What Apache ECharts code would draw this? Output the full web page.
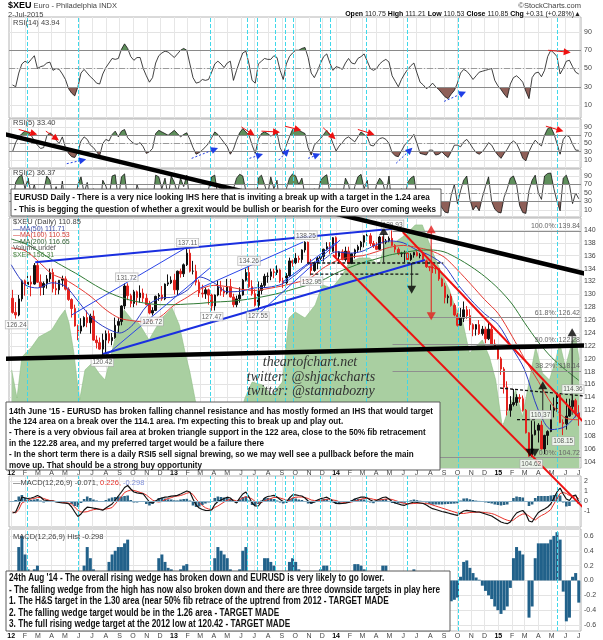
<!DOCTYPE html>
<html><head><meta charset="utf-8">
<script src="https://cdn.jsdelivr.net/npm/echarts@6.0.0/dist/echarts.min.js"></script>
<style>html,body{margin:0;padding:0;background:#fff;}#chart{width:603px;height:640px;}</style>
</head><body><div id="chart"></div>
<script>
const T = s => Date.parse(s);
const DAY = 86400000;
const X_MIN = '2011-12-27', X_MAX = '2015-07-06';
const FIRST_WEEK = '2012-01-04';

// weekly [open, high, low, close] of $XEU
const price2012 = [
[129.4,130.7,127.0,127.2],[127.2,128.8,126.24,126.8],[126.8,129.9,126.6,129.3],[129.3,132.3,128.9,132.1],[132.1,132.3,129.8,131.5],
[131.5,133.2,130.9,131.9],[131.9,132.9,129.7,131.6],[131.6,134.86,131.5,134.5],[134.5,134.9,131.8,131.9],[131.9,133.1,129.8,131.1],
[131.1,132.0,129.9,131.7],[131.7,133.0,130.9,132.4],[132.4,134.0,131.9,133.4],[133.4,134.0,130.3,130.9],[130.9,132.1,129.9,130.7],
[130.7,132.2,130.0,132.2],[132.2,132.9,131.2,132.4],[132.4,132.8,130.6,130.8],[130.8,131.1,129.0,129.2],[129.2,129.4,126.4,127.8],
[127.8,128.4,125.0,125.1],[125.1,125.3,122.88,124.3],[124.3,126.3,123.9,125.1],[125.1,126.6,124.9,126.4],[126.4,127.5,124.9,125.6],
[125.6,127.0,123.9,126.6],[126.6,127.5,122.8,122.9],[122.9,123.6,121.6,122.5],[122.5,123.3,121.4,121.5],[121.5,123.9,120.42,122.9],
[122.9,124.4,120.9,123.9],[123.9,124.4,122.4,122.8],[122.8,124.0,122.1,123.3],[123.3,126.4,123.1,125.2],[125.2,126.3,124.1,125.8],
[125.8,128.3,125.2,128.2],[128.2,131.7,127.7,131.3],[131.3,131.72,129.1,129.8],[129.8,130.1,128.0,128.6],[128.6,130.7,128.0,130.4],
[130.4,130.6,128.3,129.5],[129.5,131.4,128.7,130.2],[130.2,130.9,128.8,129.4],[129.4,130.1,128.3,128.4],[128.4,129.0,126.9,127.1],
[127.1,128.0,126.72,127.5],[127.5,129.8,127.4,129.7],[129.7,130.2,129.0,129.9],[129.9,131.3,129.0,129.3],[129.3,131.7,129.1,131.6],
[131.6,133.1,131.3,131.8],[131.8,132.8,131.6,132.2]];
const price2013 = [
[132.2,133.2,130.0,130.7],[130.7,133.7,129.9,133.6],[133.6,134.0,132.6,133.2],[133.2,134.8,132.7,134.6],[134.6,137.11,134.4,136.4],
[136.4,137.0,133.4,133.6],[133.6,135.2,133.1,133.6],[133.6,134.6,131.4,131.9],[131.9,132.3,129.6,130.2],[130.2,131.5,129.5,130.1],
[130.1,131.1,129.3,130.7],[130.7,130.9,128.4,129.9],[129.9,130.1,127.47,128.2],[128.2,130.0,127.5,129.9],[129.9,132.1,129.7,131.1],
[131.1,132.1,129.8,130.5],[130.5,131.1,129.6,130.2],[130.2,132.4,130.0,131.2],[131.2,132.4,129.5,129.6],[129.6,130.1,128.0,128.4],
[128.4,129.8,128.0,129.3],[129.3,131.1,128.7,129.9],[129.9,132.4,129.8,132.2],[132.2,134.0,132.0,133.4],[133.4,134.26,131.0,131.2],
[131.2,132.2,129.8,130.1],[130.1,130.8,128.1,128.3],[128.3,132.0,127.55,130.6],[130.6,131.8,130.0,131.4],[131.4,133.2,131.0,132.8],
[132.8,133.4,131.8,132.8],[132.8,134.0,132.2,133.5],[133.5,134.0,132.5,133.4],[133.4,134.5,133.0,133.8],[133.8,134.0,131.8,132.1],
[132.1,132.6,131.0,131.8],[131.8,133.3,131.6,132.9],[132.9,135.7,132.7,135.2],[135.2,135.4,134.3,134.9],[134.9,136.4,134.7,135.6],
[135.6,136.0,134.9,135.4],[135.4,137.0,134.9,136.9],[136.9,138.25,136.5,138.1],[138.1,138.2,134.7,134.9],[134.9,135.5,132.95,133.7],
[133.7,135.1,133.5,134.9],[134.9,135.8,133.9,135.6],[135.6,136.2,135.1,135.9],[135.9,137.1,135.1,137.0],[137.0,138.1,136.8,137.4],
[137.4,138.1,136.3,136.7],[136.7,138.9,136.6,138.8]];
const price2014 = [
[138.8,139.0,135.7,135.9],[135.9,136.7,134.8,136.6],[136.6,137.0,135.3,135.4],[135.4,137.4,135.1,136.7],[136.7,137.4,134.7,134.8],
[134.8,136.4,134.7,136.3],[136.3,137.1,135.6,136.9],[136.9,137.7,136.5,137.4],[137.4,138.3,136.8,138.1],[138.1,139.2,137.3,139.1],
[139.1,139.7,138.4,139.1],[139.1,139.5,137.5,137.9],[137.9,138.3,137.2,137.5],[137.5,138.1,136.9,137.0],[137.0,139.1,136.9,138.9],
[138.9,139.0,137.9,138.1],[138.1,138.6,137.8,138.3],[138.3,139.0,138.1,138.7],[138.7,139.93,137.5,137.6],[137.6,137.8,136.5,137.0],
[137.0,137.3,136.1,136.3],[136.3,136.6,135.8,136.4],[136.4,136.8,135.0,136.4],[136.4,136.5,135.2,135.4],[135.4,136.4,135.2,136.1],
[136.1,136.6,135.7,136.5],[136.5,137.0,135.9,136.0],[136.0,136.4,135.6,136.1],[136.1,136.3,135.0,135.2],[135.2,135.4,134.1,134.3],
[134.3,134.4,133.6,134.2],[134.2,134.5,133.3,134.1],[134.1,134.4,133.2,134.0],[134.0,134.1,132.1,132.4],[132.4,132.6,131.2,131.3],
[131.3,131.8,128.6,129.5],[129.5,130.0,128.6,129.7],[129.7,130.1,128.1,128.3],[128.3,128.6,126.6,126.8],[126.8,127.1,125.0,125.2],
[125.2,127.9,125.1,126.3],[126.3,128.9,125.7,127.6],[127.6,128.2,126.2,126.7],[126.7,127.7,124.4,125.3],[125.3,125.5,123.5,124.6],
[124.6,125.4,123.6,125.3],[125.3,126.0,123.7,123.9],[123.9,125.1,123.6,124.6],[124.6,125.0,122.4,123.1],[123.1,125.7,122.9,124.6],
[124.6,125.1,122.2,122.3],[122.3,123.0,121.6,121.8]];
const price2015 = [
[121.8,122.0,119.9,120.0],[120.0,120.3,117.5,118.4],[118.4,118.7,114.6,115.6],[115.6,116.5,111.2,112.0],[112.0,114.2,111.0,112.9],
[112.9,115.3,112.6,113.2],[113.2,114.5,112.7,114.0],[114.0,114.5,113.2,113.8],[113.8,114.3,111.8,112.0],[112.0,112.2,108.4,108.5],
[108.5,108.6,104.8,104.9],[104.9,110.4,104.62,108.2],[108.2,110.3,108.1,108.9],[108.9,110.0,107.0,109.7],[109.7,110.37,105.9,106.0],
[106.0,108.2,105.2,108.1],[108.1,108.9,106.6,108.7],[108.7,112.9,108.6,112.0],[112.0,114.0,110.9,112.3],[112.3,114.5,111.8,114.4],
[114.4,114.6,110.0,110.1],[110.1,110.6,108.15,109.9],[109.9,113.8,109.0,111.1],[111.1,113.8,111.0,112.6],[112.6,114.36,112.0,113.5],
[113.5,113.8,110.9,111.6],[111.6,112.8,109.6,110.85]];

// weekly indicator readings
const rsi14 = [32,30,45,55,58,56,60,64,50,52, 53,56,57,48,50,49,44,38,28,23, 20,30,45,49,45,41,38,34,33,44,
51,56,61,60,61,71,77,72,63,59, 62,62,50,42,35,40,56,64,67,69, 68,65,62,66,70,72,70,55,40,34,
35,38,37,38,46,55,58,55,51,56, 58,37,48,58,67,69,55,37,34,55, 58,61,60,60,64,62,48,38,55,63,
67,70,70,72,73,62,45,40,47,56, 63,66,56,48,52,51,49,56,61,56, 55,61,63,66,58,50,48,50,55,58,
60,57,42,36,30,38,44,49,53,56, 45,35,32,28,30,34,30,27,23,19, 17,22,26,34,45,49,47,43,38,42,
46,47,48,49,50,37,31,27,22,18, 33,40,42,39,35,25,17,40,45,46, 41,48,63,70,67,63,44,50,58,59, 52,46,43.94];
const rsi5 = [30,52,66,74,80,78,70,56,46,38, 40,68,76,70,58,50,66,40,26,18, 16,30,56,66,60,46,40,30,20,50,
60,56,72,80,66,80,84,64,56,50, 48,52,42,26,30,38,74,82,78,74, 70,76,82,74,66,72,76,60,40,24,
28,34,42,50,64,78,72,62,52,42, 24,36,58,76,86,78,70,46,26,60, 74,78,74,68,72,76,40,24,46,66,
84,84,82,78,74,40,22,46,54,62, 72,82,70,50,32,44,52,62,66,60, 54,66,78,72,66,46,44,54,62,64,
60,50,28,20,18,32,46,54,62,72, 50,26,24,22,34,34,22,24,30,22, 16,30,46,46,42,54,60,50,38,28,
24,30,40,52,46,32,22,14,26,36, 50,56,50,34,14,8,30,46,58,50, 44,70,86,90,74,50,24,60,70,66, 48,34,33.4];
const rsi2 = [20,75,88,92,60,85,45,70,30,12, 55,90,80,40,65,25,78,15,8,5, 18,70,88,50,75,22,60,12,5,80,
66,40,90,93,35,88,95,30,55,20, 70,45,10,6,35,25,92,88,60,85, 40,90,75,50,85,65,92,30,8,5,
25,45,15,60,88,92,40,70,35,15, 5,60,85,94,90,55,20,8,4,85, 92,70,45,88,60,80,10,5,60,85,
95,90,70,85,45,10,3,60,40,80, 88,93,50,18,6,55,40,85,70,30, 65,88,94,60,80,15,35,70,85,75,
45,90,12,5,8,60,30,75,85,90, 40,10,20,8,55,45,6,30,15,5, 3,45,70,25,55,80,90,35,10,20,
8,40,65,88,30,12,5,3,40,60, 85,90,70,20,4,2,55,80,92,50, 35,90,96,97,60,30,8,85,92,70, 25,50,36.37];
const macd = [-1.2,-1.1,-0.4,0.4,0.3,0.25,0.3,0.4,0.55,0.4, 0.1,0.05,0,0,-0.1,-0.15,-0.2,-0.22,-0.26,-0.6,
-1.1,-1.55,-1.3,-0.9,-0.62,-0.65,-0.72,-0.77,-0.85,-0.92, -0.7,-0.5,-0.3,0.1,0.5,0.9,1.35,1.55,1.2,0.9,
0.82,0.76,0.72,0.3,-0.1,-0.2,0,0.2,0.3,0.38, 0.42,0.48,0.52,0.56,0.7,0.85,1.0,0.9,0.2,-0.4,
-0.7,-0.85,-0.93,-0.95,-0.9,-0.35,-0.05,0.1,0.25,0.38, 0.3,0,-0.2,0.3,0.7,0.9,0.4,-0.2,-0.5,-0.5,
-0.1,0.3,0.45,0.5,0.56,0.4,0.15,-0.05,-0.1,0.3, 0.62,0.62,0.55,0.5,0.3,0,-0.2,-0.1,0.1,0.23,
0.3,0.38,0.2,-0.05,-0.25,-0.27,-0.25,-0.22,-0.15,0, 0.2,0.3,0.38,0.4,0.3,0.1,-0.05,0.05,0.2,0.35,
0.4,0.2,-0.05,-0.2,-0.3,-0.38,-0.43,-0.3,-0.2,-0.1, -0.15,-0.2,-0.25,-0.4,-0.6,-0.77,-0.85,-0.95,-1.05,-1.12,
-1.2,-1.28,-1.36,-1.43,-1.2,-1.0,-0.93,-0.98,-1.03,-1.08, -1.1,-1.2,-1.3,-1.4,-1.5,-1.7,-1.9,-2.1,-2.2,-2.27,
-2.1,-1.6,-1.2,-1.05,-0.95,-1.3,-2.0,-2.1,-1.6,-1.15, -0.95,-0.8,-0.6,-0.3,0.3,0.9,1.3,0.7,0.2,0.05, 0.5,0.6,-0.071];
const signal = [-1.1,-1.2,-0.85,-0.2,-0.05,0.1,0.2,0.25,0.35,0.35, 0.25,0.15,0.05,0.02,-0.05,-0.1,-0.15,-0.17,-0.21,-0.3,
-0.6,-0.95,-1.1,-1.1,-1.07,-0.95,-0.87,-0.82,-0.8,-0.87, -0.8,-0.75,-0.65,-0.3,0.05,0.45,0.85,1.0,1.1,1.05,
0.97,0.86,0.77,0.6,0.35,0.1,-0.05,-0.1,-0.05,0.13, 0.25,0.33,0.45,0.5,0.55,0.65,0.78,0.85,0.65,0.2,
-0.15,-0.45,-0.68,-0.8,-0.85,-0.65,-0.5,-0.3,-0.1,0.08, 0.15,0.1,0,0.15,0.3,0.45,0.35,0.2,-0.05,-0.2,
-0.15,0,0.15,0.25,0.36,0.35,0.3,0.2,0.1,0.05, 0.32,0.37,0.4,0.4,0.35,0.25,0.1,0.05,0.05,0.08,
0.1,0.18,0.18,0.1,0.05,-0.07,-0.13,-0.15,-0.15,-0.1, -0.02,0.08,0.18,0.25,0.28,0.25,0.17,0.12,0.12,0.15,
0.2,0.2,0.15,0.05,-0.05,-0.16,-0.25,-0.28,-0.27,-0.25, -0.23,-0.22,-0.22,-0.25,-0.3,-0.4,-0.5,-0.6,-0.7,-0.8,
-0.9,-1.0,-1.1,-1.2,-1.25,-1.25,-1.2,-1.15,-1.13,-1.12, -1.11,-1.13,-1.16,-1.2,-1.25,-1.35,-1.5,-1.65,-1.8,-1.92,
-2.0,-1.9,-1.65,-1.45,-1.3,-1.3,-1.5,-1.75,-1.9,-1.65, -1.45,-1.3,-1.1,-0.85,-0.3,0.25,0.75,0.85,0.75,0.55, 0.45,0.5,0.226];
const hist = [-0.1,0.1,0.45,0.6,0.35,0.15,0.1,0.15,0.2,0.05, -0.15,-0.1,-0.05,-0.02,-0.05,-0.05,-0.05,-0.05,-0.05,-0.3,
-0.5,-0.6,-0.2,0.2,0.45,0.3,0.15,0.05,-0.05,-0.05, 0.1,0.25,0.35,0.4,0.45,0.45,0.5,0.55,0.1,-0.15,
-0.15,-0.1,-0.05,-0.3,-0.45,-0.3,0.05,0.3,0.35,0.25, 0.17,0.15,0.07,0.06,0.15,0.2,0.22,0.05,-0.45,-0.6,
-0.55,-0.4,-0.25,-0.15,-0.05,0.3,0.45,0.4,0.35,0.3, 0.15,-0.1,-0.2,0.15,0.4,0.45,0.05,-0.4,-0.45,-0.3,
0.05,0.3,0.3,0.25,0.2,0.05,-0.15,-0.25,-0.2,0.25, 0.3,0.25,0.15,0.1,-0.05,-0.25,-0.3,-0.15,0.05,0.15,
0.2,0.2,0.02,-0.15,-0.3,-0.2,-0.12,-0.07,0,0.1, 0.22,0.22,0.2,0.15,0.02,-0.15,-0.22,-0.07,0.08,0.2,
0.2,0,-0.2,-0.25,-0.25,-0.22,-0.18,-0.02,0.07,0.15, 0.08,0.02,-0.03,-0.15,-0.3,-0.37,-0.35,-0.35,-0.35,-0.32,
-0.3,-0.28,-0.26,-0.23,0.05,0.25,0.27,0.17,0.1,0.04, 0.01,-0.07,-0.14,-0.2,-0.25,-0.35,-0.4,-0.45,-0.4,-0.35,
-0.1,0.3,0.45,0.4,0.35,0,-0.5,-0.35,0.3,0.5, 0.5,0.5,0.5,0.55,0.6,0.65,0.55,-0.15,-0.55,-0.5, 0.05,0.1,-0.298];

// monthly moving-average readings (1st of each month, Jan 2012 - Jul 2015)
const ma50 = [134.6,131.5,131.0,131.8,131.3,128.8,126.3,124.8,124.0,125.3,128.2,129.4, 129.6,130.7,132.7,131.8,130.4,130.5,131.0,131.1,131.6,133.0,134.7,135.3,
136.6,136.4,136.7,137.7,138.3,138.0,136.9,136.0,134.5,131.6,129.1,127.0, 125.3,121.7,118.3,112.0,109.0,109.5,111.71];
const ma100 = [137.2,136.8,135.2,133.2,132.3,131.0,129.5,127.6,126.3,125.9,125.7,126.5, 128.3,129.6,130.8,131.4,131.2,130.8,130.6,130.9,131.3,131.8,132.4,134.0,
135.2,135.8,136.0,136.6,137.3,137.6,137.3,136.8,135.8,133.8,131.5,129.2, 127.0,123.5,120.0,116.5,113.0,110.8,110.53];
const ma200 = [138.6,137.9,136.8,135.4,134.2,133.0,131.7,130.5,129.6,129.0,128.6,128.4, 128.4,128.5,128.6,128.8,128.9,129.1,129.4,129.8,130.3,130.9,131.5,132.2,
133.3,134.2,134.9,135.5,136.1,136.5,136.8,136.9,136.6,135.6,134.3,132.8, 130.9,128.5,125.6,122.6,120.2,118.3,116.65];

// $XEP overlay (area)
const xepDates = ['2012-01-02','2012-01-14','2012-01-25','2012-02-16','2012-03-03','2012-04-01','2012-04-19','2012-05-01','2012-05-10','2012-05-21',
'2012-05-28','2012-06-03','2012-06-15','2012-07-01','2012-07-16','2012-07-30','2012-08-21','2012-09-11','2012-09-29','2012-10-14',
'2012-11-06','2012-11-19','2012-12-05','2012-12-28','2013-01-13','2013-01-26','2013-02-06','2013-02-18','2013-03-05','2013-04-08',
'2013-05-12','2013-06-10','2013-06-26','2013-07-19','2013-08-10','2013-09-02','2013-09-17','2013-10-01','2013-10-23','2013-11-15',
'2013-12-01','2013-12-23','2014-01-15','2014-01-31','2014-02-22','2014-03-17','2014-04-08','2014-04-22','2014-05-14','2014-06-06',
'2014-06-28','2014-07-14','2014-08-06','2014-08-28','2014-09-13','2014-09-24','2014-10-12','2014-10-28','2014-11-11','2014-11-26',
'2014-12-12','2014-12-26','2015-01-10','2015-01-26','2015-02-09','2015-02-24','2015-03-12','2015-03-26','2015-04-10','2015-04-26',
'2015-05-10','2015-05-19','2015-06-01','2015-06-17','2015-06-24','2015-07-02'];
const xepValues = [151.0,136.4,157.7,162.9,168.1,171.8,178.5,182.2,175.4,159.8, 145.8,135.4,151.0,154.6,149.4,145.8,166.6,182.2,177.0,175.4,
166.6,171.8,178.0,183.2,174.4,160.3,149.9,135.4,119.8,109.4, 114.6,136.4,144.7,143.2,138.0,144.7,178.0,181.1,178.0,184.8,
195.2,193.6,200.4,207.1,209.2,209.2,205.6,217.5,217.5,221.2, 226.4,226.4,212.3,200.4,192.6,184.8,177.0,159.8,162.9,166.6,
157.7,145.8,121.3,131.7,140.6,126.5,145.8,162.9,149.4,145.8, 156.2,165.0,152.5,166.6,168.1,156.3];

// axis ticks
const priceTicks = [104,106,108,110,112,114,116,118,120,122,124,126,128,130,132,134,136,138,140];
const rsiTicks = [10,30,50,70,90];
const macdTicks = [-1,0,1,2];
const histTicks = [-0.6,-0.4,-0.2,0,0.2,0.4,0.6];

// annotations (date, value pairs)
const cyanDates = ['2012-02-05','2012-05-30','2013-03-23','2013-06-15','2013-07-08','2013-08-17','2013-09-08','2013-09-26','2013-11-26','2013-12-18','2014-03-09','2014-06-10','2014-10-03','2015-05-14'];
const fibStart = '2014-05-08';
const fibLevels = [[139.84,'100.0%: 139.84'],[126.42,'61.8%: 126.42'],[122.28,'50.0%: 122.28'],[118.14,'38.2%: 118.14'],[104.72,'0.0%: 104.72']];
const blackThick = [['2011-12-06',155.07,'2015-09-01',132.42],['2011-12-06',119.97,'2015-09-01',122.15]];
const blueThick = [['2012-02-24',135.0,'2014-05-08',140.2],['2012-07-25',120.74,'2014-07-20',135.34]];
const blueThin = [['2012-05-16',126.8,'2013-01-27',137.2],['2012-07-25',120.12,'2013-03-23',134.1],['2013-03-01',130.99,'2013-10-19',138.13],
  ['2013-07-05',126.64,'2014-01-10',138.44],['2013-09-03',131.92,'2014-01-03',138.13]];
const redThick = [['2014-05-31',139.69,'2015-09-01',106.44],['2013-12-25',136.11,'2015-09-01',93.26]];
const blackDashed = [['2013-10-28',134.87,'2014-08-30',134.87],['2013-11-04',133.16,'2014-07-09',133.16],['2015-01-05',115.46,'2015-09-01',113.91],['2015-02-12',110.54,'2015-03-29',110.54]];
const blackVLines = [['2014-04-18',139.4,135.0],['2014-06-20',134.87,131.3],['2015-06-16',123.5,111.3],['2015-04-11',115.3,110.5]];
const redVLines = [['2014-08-03',139.7,127.2]];
const blackUp = [['2014-04-18',139.85],['2015-06-16',124.1],['2015-04-11',115.9]];
const blackDown = [['2014-06-20',130.7],['2015-03-13',105.4],['2015-03-24',105.4]];
const redUp = [['2014-08-03',140.1]];
const redDown = [['2014-08-03',126.6]];
const priceNotes = [['126.24','2012-01-13',126.24,'bottom'],['131.72','2012-09-17',131.72,'top'],['137.11','2013-02-01',137.11,'top'],
  ['126.72','2012-11-13',126.72,'bottom'],['127.47','2013-03-27',127.47,'bottom'],['134.26','2013-06-19',134.26,'top'],
  ['127.55','2013-07-09',127.55,'bottom'],['138.25','2013-10-25',138.25,'top'],['132.95','2013-11-07',132.95,'bottom'],
  ['139.93','2014-05-08',139.93,'top'],['120.42','2012-07-24',120.42,'bottom'],['114.36','2015-06-18',114.36,'top'],
  ['110.37','2015-04-06',110.37,'top'],['108.15','2015-05-27',108.15,'bottom'],['104.62','2015-03-16',104.62,'bottom']];
const rsi14Red = [['2015-04-23',70,'2015-06-05',68]];
const rsi14Blue = [['2014-09-01',14,'2014-10-13',23]];
const rsi5Red = [['2012-01-18',84,'2012-02-21',74],['2012-03-19',80,'2012-04-11',62],['2013-06-02',90,'2013-06-25',74],['2013-07-17',80,'2013-08-20',78],
  ['2013-09-08',92,'2013-10-07',84],['2013-12-03',88,'2013-12-25',66],['2014-02-19',84,'2014-03-21',74],['2015-04-18',92,'2015-05-20',82]];
const rsi5Blue = [['2012-05-05',1,'2012-06-10',10],['2013-02-10',14,'2013-04-03',36],['2013-06-20',14,'2013-07-13',22],
  ['2013-08-25',10,'2013-09-12',30],['2013-10-30',14,'2013-11-19',22],['2014-05-16',2,'2014-06-16',34]];

const box1 = ['EURUSD Daily - There is a very nice looking IHS here that is inviting a break up with a target in the 1.24 area',
  '- This is begging the question of whether a grexit would be bullish or bearish for the Euro over coming weeks'];
const box2 = ["14th June '15 - EURUSD has broken falling channel resistance and has mostly formed an IHS that would target",
  "the 124 area on a break over the 114.1 area. I'm expecting this to break up and play out.",
  "- There is a very obvious fail area at broken triangle support in the 122 area, close to the 50% fib retracement",
  "in the 122.28 area, and my preferred target would be a failure there",
  "- In the short term there is a daily RSI5 sell signal brewing, so we may well see a pullback before the main",
  "move up. That should be a strong buy opportunity"];
const box3 = ["24th Aug '14 - The overall rising wedge has broken down and EURUSD is very likely to go lower.",
  "- The falling wedge from the high has now also broken down and there are three downside targets in play here",
  "1. The H&S target in the 1.30 area (near 50% fib retrace of the uptrend from 2012 - TARGET MADE",
  "2. The falling wedge target would be in the 1.26 area - TARGET MADE",
  "3. The full rising wedge target at the 2012 low at 120.42 - TARGET MADE"];

// ---------- build ----------
const SANS = '"Liberation Sans", Arial, sans-serif';
const SERIF = '"Liberation Serif", "DejaVu Serif", serif';
const weeks = rsi14.map((_, i) => T(FIRST_WEEK) + i * 7 * DAY);
const months = [];
for (let y = 2012; y <= 2015; y++) for (let m = 0; m < 12; m++) { const t = Date.UTC(y, m, 1); if (t <= T('2015-07-01')) months.push(t); }
const prices = price2012.concat(price2013, price2014, price2015);
const candle = prices.map((p, i) => [weeks[i], p[0], p[3], p[2], p[1]]);
const wk = arr => arr.map((v, i) => [weeks[i], v]);
const mo = arr => arr.map((v, i) => [months[i], v]);

const panels = [[17,101],[119,49],[169,48],[218,250],[476,51],[529,103]];
const grid = panels.map(p => ({left:9, right:22, top:p[0], height:p[1], show:true, borderColor:'#b4b4b4', borderWidth:1, backgroundColor:'#fff'}));
const monthFmt = v => { const d = new Date(v); const m = d.getUTCMonth(); return m === 0 ? '{y|' + String(d.getUTCFullYear()).slice(2) + '}' : 'JFMAMJJASOND'[m]; };
const xAxis = panels.map((p, i) => ({type:'value', gridIndex:i, min:T(X_MIN), max:T(X_MAX), scale:true,
  axisLine:{show:false}, axisTick:{show:false, customValues:months},
  splitLine:{show:true, lineStyle:{color:'#e6e6e6', width:1}},
  axisLabel:{show:(i === 3 || i === 5), customValues:months, formatter:monthFmt, fontSize:7, color:'#444', margin:2, fontFamily:SANS,
    rich:{y:{fontWeight:'bold', fontSize:7, color:'#000', fontFamily:SANS}}}}));
const yAx = (gi, min, max, ticks, fmt) => {
  const lab = {customValues:ticks, fontSize:7, color:'#444', margin:3, fontFamily:SANS};
  if (fmt) lab.formatter = fmt;
  return {type:'value', gridIndex:gi, position:'right', min, max, axisLine:{show:false}, axisTick:{show:false, customValues:ticks},
    splitLine:{show:true, lineStyle:{color:'#e3e3e3', width:1}}, axisLabel:lab};
};
const yAxis = [yAx(0,-4.2,106.4,rsiTicks), yAx(1,-9.4,109.4,rsiTicks), yAx(2,-6.5,106.5,rsiTicks),
  yAx(3,103.04,141.86,priceTicks), yAx(4,-2.6,2.5,macdTicks), yAx(5,-0.68,0.693,histTicks, v => v.toFixed(1)),
  {type:'value', gridIndex:3, min:100, max:230, show:false, splitLine:{show:false}}];

const series = [];
const add = s => { series.push(Object.assign({animation:false}, s)); return series.length - 1; };
const cyanStyle = {color:'#3fd8ea', type:'dashed', width:1};
const cyanLines = () => cyanDates.map(d => ({xAxis:T(d), lineStyle:cyanStyle}));
const refLines = () => [{yAxis:70, lineStyle:{color:'#8a8a8a', type:'solid', width:1}}, {yAxis:30, lineStyle:{color:'#8a8a8a', type:'solid', width:1}},
  {yAxis:50, lineStyle:{color:'#9a9a9a', type:[6,2,1,2], width:1}}];
const arrows = (list, color, dashed) => list.map(a => [
  {coord:[T(a[0]), a[1]], symbol:'none', lineStyle:{color, width:1, type:dashed ? [2,2] : 'solid'}},
  {coord:[T(a[2]), a[3]], symbol:'triangle', symbolSize:7}]);

const rsiSets = [[rsi14, rsi14Red, rsi14Blue], [rsi5, rsi5Red, rsi5Blue], [rsi2, [], []]];
const fillIdx = [];
rsiSets.forEach((set, k) => {
  fillIdx.push(add({type:'line', xAxisIndex:k, yAxisIndex:k, data:wk(set[0]), symbol:'none', silent:true,
    lineStyle:{width:0, opacity:0}, areaStyle:{origin:50, opacity:1}, z:2}));
  add({type:'line', xAxisIndex:k, yAxisIndex:k, data:wk(set[0]), symbol:'none', silent:true,
    lineStyle:{color:'#111', width:0.8}, z:3,
    markLine:{symbol:['none','none'], silent:true, animation:false, label:{show:false},
      data:[...refLines(), ...cyanLines(), ...arrows(set[1], '#ee1111', false), ...arrows(set[2], '#1f3ee6', true)]}});
});

// main price panel
add({type:'line', xAxisIndex:3, yAxisIndex:6, data:xepDates.map((d, i) => [T(d), xepValues[i]]), symbol:'none', silent:true,
  lineStyle:{color:'#8dbd83', width:0.6}, areaStyle:{color:'#a9cfa1', opacity:1}, z:1});
add({type:'candlestick', xAxisIndex:3, yAxisIndex:3, data:candle, barWidth:2, silent:true, z:3,
  itemStyle:{color:'#111', color0:'#e3241f', borderColor:'#111', borderColor0:'#e3241f', borderWidth:1},
  markLine:{symbol:['none','none'], silent:true, animation:false,
    data:[...cyanLines().map(o => Object.assign(o, {label:{show:false}})),
      ...fibLevels.map(f => [{coord:[T(fibStart), f[0]], lineStyle:{color:'#8f8f8f', type:'solid', width:1},
        label:{show:true, position:'insideEndTop', formatter:f[1], fontSize:7, color:'#666', distance:1, fontFamily:SANS}},
        {coord:[T(X_MAX), f[0]]}])]}});
[[ma50,'#2b3cc4'],[ma100,'#e53a33'],[ma200,'#2f7a34']].forEach(m => add({type:'line', xAxisIndex:3, yAxisIndex:3, data:mo(m[0]),
  symbol:'none', smooth:0.3, silent:true, lineStyle:{color:m[1], width:1}, z:4}));
const seg = (a, style, z) => add({type:'line', xAxisIndex:3, yAxisIndex:3, data:[[T(a[0]), a[1]], [T(a[2]), a[3]]],
  symbol:'none', clip:false, silent:true, lineStyle:style, z:z || 5});
blueThin.forEach(a => seg(a, {color:'#2b45e8', width:1}));
blueThick.forEach(a => seg(a, {color:'#1a2fe0', width:2}));
blackDashed.forEach(a => seg(a, {color:'#111', width:1.3, type:[3,2]}));
blackVLines.forEach(a => seg([a[0], a[1], a[0], a[2]], {color:'#222', width:1}));
redVLines.forEach(a => seg([a[0], a[1], a[0], a[2]], {color:'#e51c1c', width:1}));
redThick.forEach(a => seg(a, {color:'#ee1111', width:2}));
blackThick.forEach(a => seg(a, {color:'#000', width:4.5}, 7));
const tri = (list, color, rot) => list.map(a => ({value:[T(a[0]), a[1]], symbolRotate:rot, itemStyle:{color}}));
add({type:'scatter', xAxisIndex:3, yAxisIndex:3, symbol:'triangle', symbolSize:[9,8], silent:true, z:6,
  data:[...tri(blackUp,'#000',0), ...tri(blackDown,'#000',180), ...tri(redUp,'#e51c1c',0), ...tri(redDown,'#e51c1c',180)]});
add({type:'scatter', xAxisIndex:3, yAxisIndex:3, symbolSize:0, silent:true, z:6,
  data:priceNotes.map(n => ({name:n[0], value:[T(n[1]), n[2]], label:{position:n[3]}})),
  label:{show:true, formatter:'{b}', fontSize:6.5, color:'#333', backgroundColor:'#fff', borderColor:'#aaa', borderWidth:0.7,
    padding:[1,1,0,1], distance:2, fontFamily:SANS}});

// MACD panel
add({type:'bar', xAxisIndex:4, yAxisIndex:4, data:wk(hist), barWidth:2.6, silent:true, itemStyle:{color:'#2a6486'}, z:2,
  markLine:{symbol:['none','none'], silent:true, animation:false, label:{show:false},
    data:[{yAxis:0, lineStyle:{color:'#8fb3c9', type:'solid', width:1}}, ...cyanLines()]}});
add({type:'line', xAxisIndex:4, yAxisIndex:4, data:wk(signal), symbol:'none', silent:true, lineStyle:{color:'#e8322a', width:1}, z:3});
add({type:'line', xAxisIndex:4, yAxisIndex:4, data:wk(macd), symbol:'none', silent:true, lineStyle:{color:'#111', width:1.2}, z:4});
// histogram panel
add({type:'bar', xAxisIndex:5, yAxisIndex:5, data:wk(hist), barWidth:3, silent:true, itemStyle:{color:'#21618a'}, z:2,
  markLine:{symbol:['none','none'], silent:true, animation:false, label:{show:false}, data:cyanLines()}});

const visualMap = fillIdx.map(idx => ({type:'piecewise', show:false, seriesIndex:idx, dimension:1,
  pieces:[{lt:30, color:'#8e5f58'}, {gte:30, lte:70, color:'rgba(255,255,255,0)'}, {gt:70, color:'#5f8f5c'}]}));

// text helpers
const measure = document.createElement('canvas').getContext('2d');
const fitScale = (lines, fs, target) => {
  measure.font = 'bold ' + fs + 'px ' + SANS;
  const w = Math.max(...lines.map(l => measure.measureText(l).width));
  return Math.min(1, target / w);
};
const txt = (x, y, text, st) => ({type:'text', x, y, z:100, silent:true,
  style:Object.assign({text, fontSize:7.5, fontFamily:SANS, fill:'#333', verticalAlign:'middle', textVerticalAlign:'middle'}, st || {})});
const right = {align:'right', textAlign:'right'};
const bold = {fontWeight:'bold', fill:'#000', fontSize:7.5, fontFamily:SANS};
const box = (x, y, w, h, lines, fs, lh, ty, target) => [
  {type:'rect', z:100, silent:true, shape:{x, y, width:w, height:h}, style:{fill:'#fff', stroke:'#5a5a5a', lineWidth:1}},
  {type:'text', z:101, silent:true, x:x + 3, y:ty, scaleX:fitScale(lines, fs, target),
    style:{text:lines.join('\n'), fontSize:fs, fontWeight:'bold', fontFamily:SANS,
    fill:'#111', lineHeight:lh, verticalAlign:'top', textVerticalAlign:'top'}}];

const graphic = [
  txt(8, 6, '{b|$XEU} Euro - Philadelphia INDX', {rich:{b:{fontWeight:'bold', fontSize:9, fill:'#000', fontFamily:SANS}}, fill:'#444'}),
  txt(8, 14.5, '2-Jul-2015', {fill:'#444'}),
  txt(581, 6, '\u00a9StockCharts.com', Object.assign({fill:'#444'}, right)),
  txt(581, 14.5, '{b|Open} 110.75 {b|High} 111.21 {b|Low} 110.53 {b|Close} 110.85 {b|Chg} +0.31 (+0.28%)\u25b2',
    Object.assign({rich:{b:Object.assign({}, bold, {fontSize:7})}, fill:'#222', fontSize:7}, right)),
  txt(13, 23, 'RSI(14) 43.94', {fill:'#444'}),
  txt(13, 123, 'RSI(5) 33.40', {fill:'#444'}),
  txt(13, 173, 'RSI(2) 36.37', {fill:'#444'}),
  txt(13, 222, '$XEU (Daily) 110.85', {fill:'#444'}),
  txt(13, 229, '\u2014MA(50) 111.71', {fill:'#3c4aa6', fontSize:7}),
  txt(13, 235.5, '\u2014MA(100) 110.53', {fill:'#d23a33', fontSize:7}),
  txt(13, 242, '\u2014MA(200) 116.65', {fill:'#2f5f33', fontSize:7}),
  txt(13, 248.5, 'Volume undef', {fill:'#555', fontSize:7}),
  txt(13, 255, '$XEP 156.31', {fill:'#4f8a47', fontSize:7}),
  txt(13, 483, '{k|\u2014MACD(12,26,9) -0.071,} {r|0.226,} {u|-0.298}', {rich:{k:{fill:'#444', fontSize:7.5, fontFamily:SANS},
    r:{fill:'#e5322c', fontSize:7.5, fontFamily:SANS}, u:{fill:'#7f8fd8', fontSize:7.5, fontFamily:SANS}}}),
  txt(13, 537, 'MACD(12,26,9) Hist -0.298', {fill:'#444'}),
  ...box(11, 189, 430, 27, box1, 9.5, 12, 191, 422),
  ...box(6, 402, 434, 68, box2, 9.5, 10.8, 405.5, 424),
  ...box(6, 571, 444, 60, box3, 10, 11.5, 572.5, 431),
  txt(310, 362, 'theartofchart.net', {align:'center', textAlign:'center', fontFamily:SERIF, fontStyle:'italic', fontSize:14, fill:'#333'}),
  txt(311, 377, 'twitter: @shjackcharts', {align:'center', textAlign:'center', fontFamily:SERIF, fontStyle:'italic', fontSize:14, fill:'#333'}),
  txt(311, 391, 'twitter: @stannabozny', {align:'center', textAlign:'center', fontFamily:SERIF, fontStyle:'italic', fontSize:14, fill:'#333'})
];

const chart = echarts.init(document.getElementById('chart'), null, {renderer:'canvas', width:603, height:640});
chart.setOption({animation:false, backgroundColor:'#fff', textStyle:{fontFamily:SANS},
  grid, xAxis, yAxis, visualMap, series, graphic});
</script></body></html>
